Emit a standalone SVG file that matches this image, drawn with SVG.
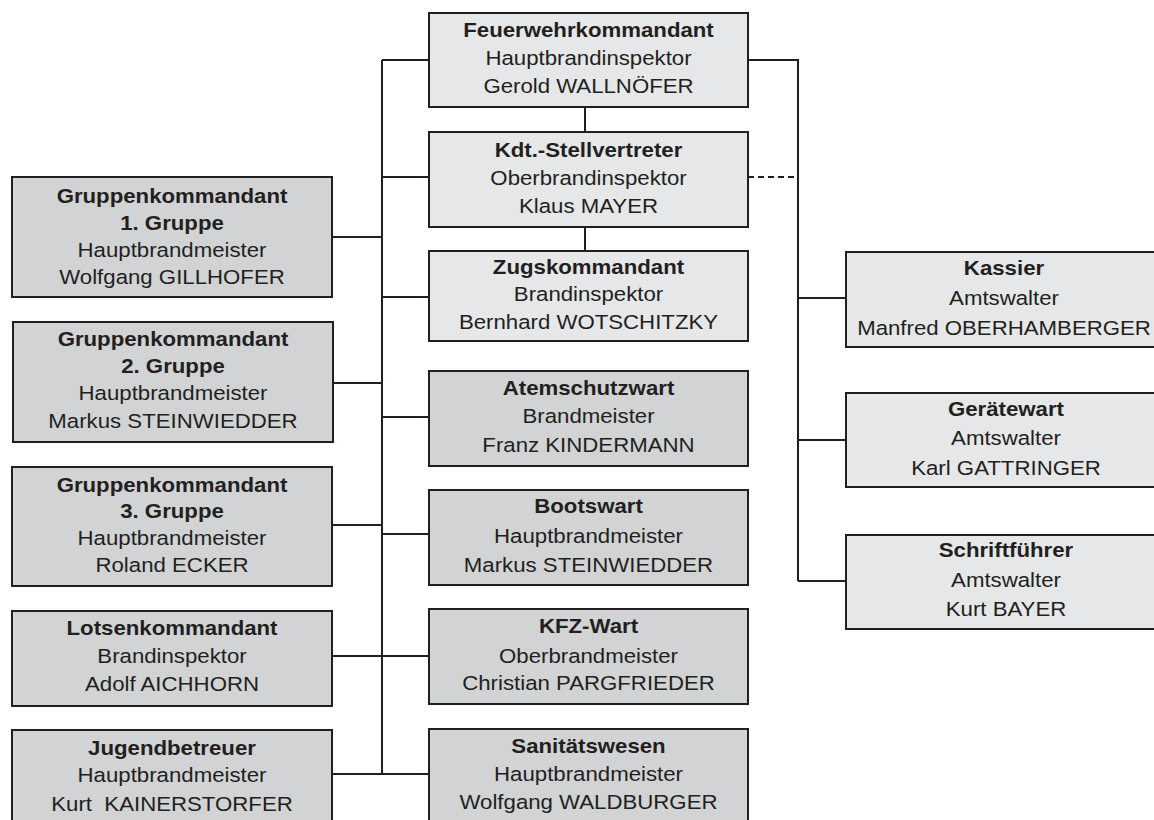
<svg xmlns="http://www.w3.org/2000/svg" width="1154" height="820" viewBox="0 0 1154 820">
<style>
.bx{stroke:#231f20;stroke-width:2}
.lt{fill:#e6e7e8}
.dk{fill:#d1d3d4}
.t{font-family:"Liberation Sans",Arial,sans-serif;font-size:19.5px;fill:#231f20;text-anchor:middle}
.b{font-weight:bold}
.ln{stroke:#231f20;stroke-width:2;fill:none}
.ds{stroke-dasharray:6 4}
</style>
<rect width="1154" height="820" fill="#ffffff"/>
<g id="connectors">
<path class="ln" d="M382 60V774M382 60H429M748 60H798V581M382 177H429M585 107V132M585 227V251M332 237H382M382 297H429M332 383H382M382 417H429M332 525H382M382 534H429M332 656H429M332 774H429M798 298H846M798 440H846M798 581H846"/>
<path class="ln ds" d="M748 177H798"/>
</g>
<g id="fw">
<rect class="bx lt" x="429" y="13" width="319" height="94"/>
<g transform="translate(588.5,0) scale(1.14,1)"><text class="t b" x="0" y="37.5">Feuerwehrkommandant</text><text class="t" x="0" y="65.5">Hauptbrandinspektor</text><text class="t" x="0" y="93.5">Gerold WALLNÖFER</text></g>
</g>
<g id="kdt">
<rect class="bx lt" x="429" y="132" width="319" height="95"/>
<g transform="translate(588.5,0) scale(1.14,1)"><text class="t b" x="0" y="156.7">Kdt.-Stellvertreter</text><text class="t" x="0" y="185">Oberbrandinspektor</text><text class="t" x="0" y="213.3">Klaus MAYER</text></g>
</g>
<g id="zugs">
<rect class="bx lt" x="429" y="251" width="319" height="90"/>
<g transform="translate(588.5,0) scale(1.14,1)"><text class="t b" x="0" y="274">Zugskommandant</text><text class="t" x="0" y="301">Brandinspektor</text><text class="t" x="0" y="329">Bernhard WOTSCHITZKY</text></g>
</g>
<g id="atem">
<rect class="bx dk" x="429" y="371" width="319" height="95"/>
<g transform="translate(588.5,0) scale(1.14,1)"><text class="t b" x="0" y="395">Atemschutzwart</text><text class="t" x="0" y="422.7">Brandmeister</text><text class="t" x="0" y="451.7">Franz KINDERMANN</text></g>
</g>
<g id="boots">
<rect class="bx dk" x="429" y="490" width="319" height="95"/>
<g transform="translate(588.5,0) scale(1.14,1)"><text class="t b" x="0" y="513.3">Bootswart</text><text class="t" x="0" y="542.7">Hauptbrandmeister</text><text class="t" x="0" y="572.3">Markus STEINWIEDDER</text></g>
</g>
<g id="kfz">
<rect class="bx dk" x="429" y="609" width="319" height="95"/>
<g transform="translate(588.5,0) scale(1.14,1)"><text class="t b" x="0" y="633.3">KFZ-Wart</text><text class="t" x="0" y="663.3">Oberbrandmeister</text><text class="t" x="0" y="690">Christian PARGFRIEDER</text></g>
</g>
<g id="sani">
<rect class="bx dk" x="429" y="729" width="319" height="96"/>
<g transform="translate(588.5,0) scale(1.14,1)"><text class="t b" x="0" y="753.3">Sanitätswesen</text><text class="t" x="0" y="780.7">Hauptbrandmeister</text><text class="t" x="0" y="809">Wolfgang WALDBURGER</text></g>
</g>
<g id="g1">
<rect class="bx dk" x="12" y="177" width="320" height="120"/>
<g transform="translate(172,0) scale(1.14,1)"><text class="t b" x="0" y="202.7">Gruppenkommandant</text><text class="t b" x="0" y="230">1. Gruppe</text><text class="t" x="0" y="256.7">Hauptbrandmeister</text><text class="t" x="0" y="284">Wolfgang GILLHOFER</text></g>
</g>
<g id="g2">
<rect class="bx dk" x="13" y="322" width="320" height="120"/>
<g transform="translate(173,0) scale(1.14,1)"><text class="t b" x="0" y="346">Gruppenkommandant</text><text class="t b" x="0" y="373.3">2. Gruppe</text><text class="t" x="0" y="400">Hauptbrandmeister</text><text class="t" x="0" y="428">Markus STEINWIEDDER</text></g>
</g>
<g id="g3">
<rect class="bx dk" x="12" y="467" width="320" height="119"/>
<g transform="translate(172,0) scale(1.14,1)"><text class="t b" x="0" y="491.7">Gruppenkommandant</text><text class="t b" x="0" y="518.3">3. Gruppe</text><text class="t" x="0" y="545">Hauptbrandmeister</text><text class="t" x="0" y="571.7">Roland ECKER</text></g>
</g>
<g id="lotsen">
<rect class="bx dk" x="12" y="611" width="320" height="95"/>
<g transform="translate(172,0) scale(1.14,1)"><text class="t b" x="0" y="635">Lotsenkommandant</text><text class="t" x="0" y="662.7">Brandinspektor</text><text class="t" x="0" y="691">Adolf AICHHORN</text></g>
</g>
<g id="jugend">
<rect class="bx dk" x="12" y="730" width="320" height="95"/>
<g transform="translate(172,0) scale(1.14,1)"><text class="t b" x="0" y="755">Jugendbetreuer</text><text class="t" x="0" y="781.7">Hauptbrandmeister</text><text class="t" x="0" y="810.7" xml:space="preserve">Kurt  KAINERSTORFER</text></g>
</g>
<g id="kassier">
<rect class="bx lt" x="846" y="252" width="320" height="95"/>
<g transform="translate(1004,0) scale(1.14,1)"><text class="t b" x="0" y="275">Kassier</text><text class="t" x="0" y="305">Amtswalter</text><text class="t" x="0" y="335">Manfred OBERHAMBERGER</text></g>
</g>
<g id="geraete">
<rect class="bx lt" x="846" y="393" width="320" height="94"/>
<g transform="translate(1006,0) scale(1.14,1)"><text class="t b" x="0" y="415.7">Gerätewart</text><text class="t" x="0" y="445">Amtswalter</text><text class="t" x="0" y="475">Karl GATTRINGER</text></g>
</g>
<g id="schrift">
<rect class="bx lt" x="846" y="535" width="320" height="94"/>
<g transform="translate(1006,0) scale(1.14,1)"><text class="t b" x="0" y="556.7">Schriftführer</text><text class="t" x="0" y="586.7">Amtswalter</text><text class="t" x="0" y="616">Kurt BAYER</text></g>
</g>
</svg>
